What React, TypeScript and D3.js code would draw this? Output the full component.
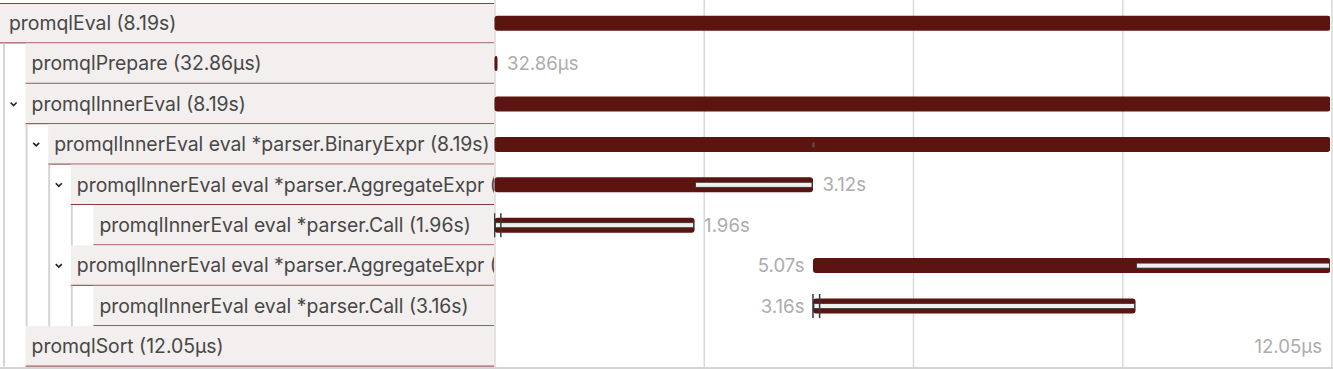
import React from 'react';
import * as d3 from 'd3';

// ---- data ----
const spanNames = [
  'promqlEval',
  'promqlPrepare',
  'promqlInnerEval',
  'promqlInnerEval eval *parser.BinaryExpr',
  'promqlInnerEval eval *parser.AggregateExpr',
  'promqlInnerEval eval *parser.Call',
  'promqlInnerEval eval *parser.AggregateExpr',
  'promqlInnerEval eval *parser.Call',
  'promqlSort',
];
const spanDurationLabels = ['8.19s', '32.86µs', '8.19s', '8.19s', '3.12s', '1.96s', '5.07s', '3.16s', '12.05µs'];
const spanStarts = [0, 0, 0.0000329, 0.0000329, 0.0000329, 0.0000329, 3.12, 3.12, 8.19];
const spanDurations = [8.19, 0.00003286, 8.19, 8.19, 3.12, 1.96, 5.07, 3.16, 0.00001205];
const spanParents = [-1, 0, 0, 2, 3, 4, 3, 6, 0];
const eventRows = [5, 5, 7, 7];
const eventTimes = [0, 0.062, 3.12, 3.185];
const markerRows = [3];
const markerTimes = [3.12];
const timeDomain = [0, 8.19];
const gridDivisions = 4;

// ---- styling / layout ----
const W = 1333;
const H = 369;
const TOP = 3;
const ROW_H = 40.4;
const LABEL_W = 494;
const TL_LEFT = 495;
const TL_RIGHT = 1331;
const GRID_RIGHT = 1332;
const INDENT = 22.6;
const BAR_H = 15;
const FONT_SIZE = 19.4;
const DUR_FONT_SIZE = 18.6;
const BAR_COLOR = '#5b140f';
const BOX_BG = '#f2efee';
const BOX_LINE = '#8c3b3b';
const TEXT_COLOR = '#474747';
const DUR_COLOR = '#acacac';
const GRID_COLOR = '#d9d9d9';
const FONT = 'Inter, "Noto Sans", sans-serif';

function depthOf(i: number): number {
  let d = 0;
  let p = spanParents[i];
  while (p >= 0) {
    d++;
    p = spanParents[p];
  }
  return d;
}

let ctx: CanvasRenderingContext2D | null = null;
function textWidth(t: string): number {
  if (!ctx) ctx = document.createElement('canvas').getContext('2d');
  if (!ctx) return t.length * 10;
  ctx.font = `${DUR_FONT_SIZE}px Inter`;
  return ctx.measureText(t).width;
}

export default function App() {
  const x = d3.scaleLinear().domain(timeDomain).range([TL_LEFT, TL_RIGHT]);
  const g = d3.scaleLinear().domain([0, gridDivisions]).range([TL_LEFT, GRID_RIGHT]);
  const y = d3
    .scaleLinear()
    .domain([0, spanNames.length])
    .range([TOP, TOP + ROW_H * spanNames.length]);

  const rows = spanNames.map((name, i) => {
    const depth = depthOf(i);
    const start = spanStarts[i];
    const end = start + spanDurations[i];
    const children = spanParents.map((p, j) => (p === i ? j : -1)).filter((j) => j >= 0);
    const cov = children
      .map((j) => [spanStarts[j], spanStarts[j] + spanDurations[j]])
      .sort((a, b) => a[0] - b[0]);
    const gaps: [number, number][] = [];
    let cur = start;
    cov.forEach(([s, e]) => {
      if (s > cur) gaps.push([cur, s]);
      cur = Math.max(cur, e);
    });
    if (end > cur) gaps.push([cur, end]);
    return { name, i, depth, start, end, children, gaps };
  });

  const boxX = (d: number) => (d === 0 ? 0 : 3 + d * INDENT);
  const textX = (d: number) => 3 + d * INDENT + 6;

  return (
    <svg
      width={W}
      height={H}
      style={{ position: 'absolute', left: 0, top: 0, background: '#fff' }}
      fontFamily={FONT}
    >
      <defs>
        <clipPath id="labelClip">
          <rect x={0} y={0} width={LABEL_W} height={H} />
        </clipPath>
        <clipPath id="tlClip">
          <rect x={TL_LEFT - 1} y={0} width={TL_RIGHT - 1 - (TL_LEFT - 1)} height={H} />
        </clipPath>
      </defs>

      {/* grid */}
      {d3.range(gridDivisions + 1).map((k) => (
        <line key={k} x1={g(k)} x2={g(k)} y1={0} y2={H - 2} stroke={GRID_COLOR} strokeWidth={1.5} />
      ))}
      <rect x={0} y={H - 2} width={W} height={2} fill="#d4d4d4" />

      {/* label boxes */}
      <g clipPath="url(#labelClip)">
        {rows.map((r) => {
          const top = y(r.i);
          const bx = boxX(r.depth);
          return (
            <g key={r.i}>
              <rect x={bx} y={top} width={LABEL_W - bx} height={ROW_H} fill={BOX_BG} />
              <line x1={bx} x2={LABEL_W} y1={top + ROW_H - 0.5} y2={top + ROW_H - 0.5} stroke={BOX_LINE} strokeWidth={1} />
              {r.i === 0 && <line x1={bx} x2={LABEL_W} y1={top + 0.5} y2={top + 0.5} stroke={BOX_LINE} strokeWidth={1} />}
              {r.depth > 0 && r.children.length > 0 && (
                <path
                  d={`M${bx - 15},${top + ROW_H / 2 - 1.5} l3,3 l3,-3`}
                  fill="none"
                  stroke="#222"
                  strokeWidth={1.6}
                />
              )}
              <text
                x={textX(r.depth)}
                y={top + ROW_H / 2}
                dy="0.35em"
                fontSize={FONT_SIZE}
                fill={TEXT_COLOR}
              >
                {`${r.name} (${spanDurationLabels[r.i]})`}
              </text>
            </g>
          );
        })}
        {/* tree guide lines */}
        {rows
          .filter((r) => r.children.length > 0)
          .map((r) => {
            const desc: number[] = [];
            const walk = (k: number) => {
              rows[k].children.forEach((c) => {
                desc.push(c);
                walk(c);
              });
            };
            walk(r.i);
            const first = d3.min(desc) as number;
            const last = d3.max(desc) as number;
            const lx = 3 + r.depth * INDENT + 1;
            return (
              <line
                key={'t' + r.i}
                x1={lx}
                x2={lx}
                y1={y(first)}
                y2={y(last + 1)}
                stroke="#d4d4d4"
                strokeWidth={2}
              />
            );
          })}
      </g>

      {/* bars */}
      <g clipPath="url(#tlClip)">
        {rows.map((r) => {
          const cy = y(r.i) + ROW_H / 2;
          const x0 = x(r.start);
          const w = Math.max(3, x(r.end) - x0);
          return (
            <g key={'b' + r.i}>
              <rect x={x0 - 0.5} y={cy - BAR_H / 2} width={w} height={BAR_H} rx={3} fill={BAR_COLOR} />
              {r.gaps
                .filter(([s, e]) => x(e) - x(s) > 2)
                .map(([s, e], k) => (
                  <rect
                    key={k}
                    x={x(s) + 0.5}
                    y={cy - 2.5}
                    width={x(e) - x(s) - 2}
                    height={5}
                    fill="#efefef"
                    stroke="#333"
                    strokeWidth={0.8}
                  />
                ))}
            </g>
          );
        })}
        {eventRows.map((row, k) => {
          const cy = y(row) + ROW_H / 2;
          const ex = x(eventTimes[k]) - 0.5;
          return <line key={'e' + k} x1={ex} x2={ex} y1={cy - 12} y2={cy + 12} stroke="#2e3a40" strokeWidth={1.5} />;
        })}
        {markerRows.map((row, k) => {
          const cy = y(row) + ROW_H / 2;
          return <rect key={'m' + k} x={x(markerTimes[k]) - 1} y={cy - 2} width={2} height={5} fill="#555" />;
        })}
      </g>

      {/* duration labels: placed on the side with more free space */}
      {rows.map((r) => {
        const cy = y(r.i) + ROW_H / 2;
        const label = spanDurationLabels[r.i];
        const tw = textWidth(label);
        const x0 = x(r.start);
        const x1 = Math.max(x(r.end), x0 + 3);
        const leftSpace = x0 - TL_LEFT;
        const rightSpace = TL_RIGHT - x1;
        if (leftSpace > rightSpace) {
          if (leftSpace < tw + 12) return null;
          return (
            <text key={'d' + r.i} x={x0 - 9} y={cy} dy="0.35em" fontSize={DUR_FONT_SIZE} fill={DUR_COLOR} textAnchor="end">
              {label}
            </text>
          );
        }
        if (rightSpace < tw + 12) return null;
        return (
          <text key={'d' + r.i} x={x1 + 9} y={cy} dy="0.35em" fontSize={DUR_FONT_SIZE} fill={DUR_COLOR}>
            {label}
          </text>
        );
      })}
    </svg>
  );
}
